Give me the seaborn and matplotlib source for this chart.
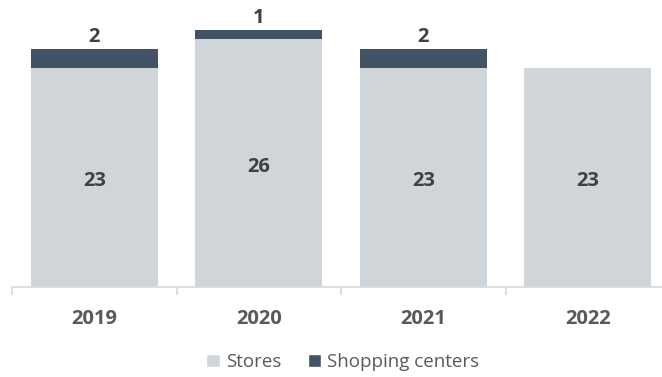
import matplotlib
matplotlib.use("Agg")
import matplotlib.pyplot as plt
from matplotlib.patches import Patch
import seaborn as sns
import pandas as pd

years = ["2019", "2020", "2021", "2022"]
stores = [23, 26, 23, 23]
shopping_centers = [2, 1, 2, 0]

STORE_COLOR = "#D0D5D9"
CENTER_COLOR = "#415364"
LABEL_COLOR = "#404040"
TICK_COLOR = "#595959"
AXIS_COLOR = "#D9D9D9"

sns.set_theme(style="white")
plt.rcParams["font.family"] = ["Open Sans", "DejaVu Sans"]

df = pd.DataFrame({"year": years, "stores": stores, "centers": shopping_centers})

fig = plt.figure(figsize=(6.62, 3.77), dpi=100)
ax = fig.add_axes([12 / 662, 90 / 377, 658 / 662, 262 / 377])

sns.barplot(data=df, x="year", y="stores", color=STORE_COLOR, width=0.77,
            saturation=1, linewidth=0, ax=ax)
sns.barplot(data=df, x="year", y="centers", color=CENTER_COLOR, width=0.77,
            saturation=1, linewidth=0, bottom=df["stores"], ax=ax)

for i, (s, c) in enumerate(zip(stores, shopping_centers)):
    ax.annotate(str(s), xy=(i, s / 2), xytext=(0, -2.5), textcoords="offset points",
                ha="center", va="center", fontsize=14.5, fontweight="bold",
                color=LABEL_COLOR)
    if c:
        ax.annotate(str(c), xy=(i, s + c), xytext=(0, 1.5), textcoords="offset points",
                    ha="center", va="bottom", fontsize=14.5, fontweight="bold",
                    color=LABEL_COLOR)

ax.set_xlim(-0.5, 3.5)
ax.set_ylim(0, 27.5)
ax.set_xlabel("")
ax.set_ylabel("")
ax.set_yticks([])

for side in ("top", "right", "left"):
    ax.spines[side].set_visible(False)
ax.spines["bottom"].set_color(AXIS_COLOR)
ax.spines["bottom"].set_linewidth(1.2)

ax.set_xticks(range(len(years)))
ax.set_xticklabels(years, fontsize=14.5, fontweight="bold", color=TICK_COLOR)
ax.tick_params(axis="x", which="major", length=0, pad=16)
ax.set_xticks([-0.5, 0.5, 1.5, 2.5, 3.5], minor=True)
ax.tick_params(axis="x", which="minor", bottom=True, length=6, width=1.2,
               color=AXIS_COLOR, direction="out")

handles = [Patch(facecolor=STORE_COLOR, label="Stores"),
           Patch(facecolor=CENTER_COLOR, label="Shopping centers")]
fig.legend(handles=handles, loc="center", bbox_to_anchor=(343 / 662, 15 / 377),
           ncol=2, frameon=False, fontsize=13.5, labelcolor=TICK_COLOR,
           handlelength=0.7, handleheight=0.7, handletextpad=0.35,
           columnspacing=1.4)

fig.savefig("out.png", dpi=100)
